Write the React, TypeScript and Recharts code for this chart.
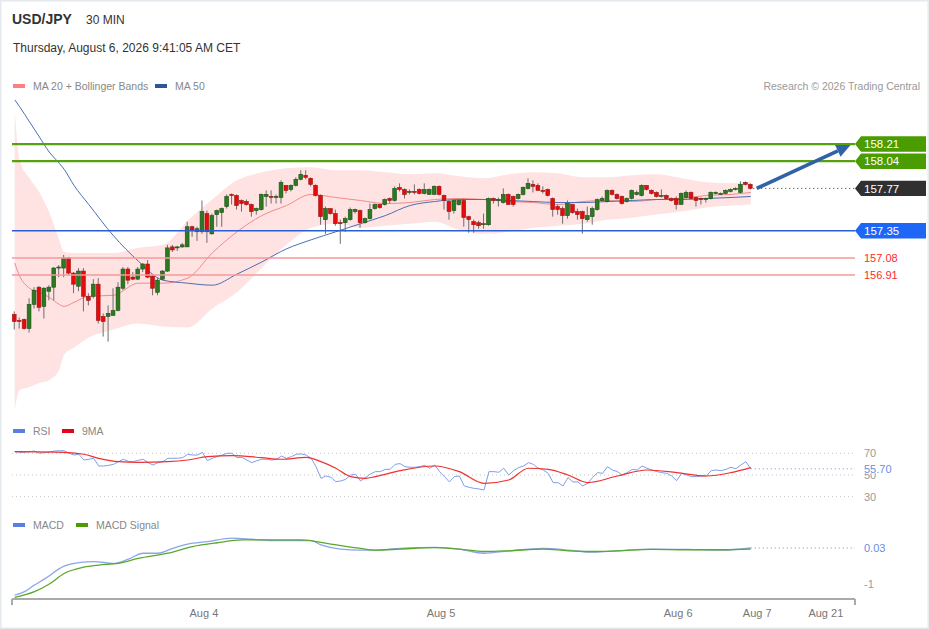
import { Area, Bar, ComposedChart, Line, ReferenceLine, XAxis, YAxis } from "recharts";

const FONT = '"Liberation Sans", Arial, sans-serif';

// USD/JPY 30 min candles, index 0 = first bar on screen
const OPEN = [
  156.52, 156.46, 156.47, 156.38, 156.62, 156.79, 156.6, 156.75, 156.79, 156.98,
  156.98, 157.08, 156.93, 156.8, 156.95, 156.7, 156.7, 156.82, 156.5, 156.5,
  156.51, 156.56, 156.78, 156.97, 156.89, 156.87, 156.97, 157.02, 156.9, 156.74,
  156.87, 156.95, 157.19, 157.18, 157.19, 157.19, 157.39, 157.34, 157.34, 157.52,
  157.32, 157.51, 157.53, 157.59, 157.71, 157.7, 157.65, 157.64, 157.61, 157.55,
  157.56, 157.69, 157.69, 157.68, 157.68, 157.8, 157.76, 157.8, 157.86, 157.9,
  157.87, 157.8, 157.7, 157.46, 157.57, 157.52, 157.43, 157.43, 157.46, 157.54,
  157.55, 157.43, 157.47, 157.57, 157.61, 157.61, 157.67, 157.65, 157.78, 157.76,
  157.73, 157.74, 157.76, 157.72, 157.71, 157.71, 157.79, 157.7, 157.64, 157.55,
  157.61, 157.65, 157.49, 157.44, 157.43, 157.41, 157.41, 157.67, 157.65, 157.63,
  157.71, 157.69, 157.67, 157.71, 157.77, 157.81, 157.8, 157.75, 157.76, 157.67,
  157.59, 157.57, 157.5, 157.61, 157.54, 157.54, 157.46, 157.49, 157.56, 157.65,
  157.64, 157.75, 157.71, 157.69, 157.64, 157.67, 157.71, 157.7, 157.8, 157.75,
  157.73, 157.69, 157.7, 157.67, 157.67, 157.61, 157.68, 157.73, 157.68, 157.67,
  157.66, 157.67, 157.72, 157.72, 157.72, 157.74, 157.76, 157.73, 157.83, 157.81,
];
const HIGH = [
  156.55, 156.49, 156.48, 156.68, 156.79, 156.8, 156.79, 156.81, 156.99, 157.01,
  157.11, 157.09, 156.94, 156.98, 156.98, 156.73, 156.87, 156.88, 156.53, 156.61,
  156.78, 156.84, 156.99, 156.99, 156.94, 156.99, 157.03, 157.06, 156.91, 156.88,
  156.96, 157.21, 157.21, 157.2, 157.23, 157.44, 157.4, 157.39, 157.65, 157.55,
  157.52, 157.56, 157.58, 157.71, 157.72, 157.71, 157.66, 157.66, 157.62, 157.58,
  157.72, 157.75, 157.75, 157.71, 157.85, 157.8, 157.81, 157.88, 157.95, 157.95,
  157.88, 157.81, 157.71, 157.59, 157.57, 157.56, 157.46, 157.49, 157.58, 157.57,
  157.56, 157.48, 157.62, 157.62, 157.62, 157.67, 157.68, 157.79, 157.82, 157.77,
  157.76, 157.81, 157.77, 157.82, 157.77, 157.8, 157.8, 157.71, 157.66, 157.66,
  157.67, 157.67, 157.5, 157.46, 157.45, 157.52, 157.68, 157.68, 157.68, 157.77,
  157.72, 157.7, 157.72, 157.79, 157.87, 157.85, 157.82, 157.79, 157.77, 157.68,
  157.61, 157.59, 157.65, 157.61, 157.57, 157.55, 157.59, 157.59, 157.67, 157.69,
  157.76, 157.76, 157.72, 157.7, 157.68, 157.76, 157.75, 157.81, 157.8, 157.76,
  157.74, 157.76, 157.71, 157.68, 157.69, 157.73, 157.75, 157.74, 157.69, 157.68,
  157.68, 157.74, 157.74, 157.73, 157.76, 157.77, 157.78, 157.84, 157.84, 157.82,
];
const LOW = [
  156.37, 156.38, 156.37, 156.34, 156.58, 156.55, 156.48, 156.66, 156.66, 156.89,
  156.89, 156.91, 156.73, 156.75, 156.55, 156.61, 156.68, 156.43, 156.3, 156.25,
  156.51, 156.55, 156.76, 156.82, 156.86, 156.86, 156.94, 156.88, 156.71, 156.71,
  156.86, 156.94, 157.14, 157.15, 157.18, 157.19, 157.29, 157.25, 157.32, 157.23,
  157.31, 157.39, 157.39, 157.57, 157.61, 157.56, 157.54, 157.6, 157.49, 157.51,
  157.55, 157.59, 157.62, 157.62, 157.62, 157.72, 157.74, 157.79, 157.85, 157.86,
  157.79, 157.69, 157.41, 157.32, 157.51, 157.4, 157.22, 157.34, 157.45, 157.52,
  157.38, 157.42, 157.46, 157.56, 157.57, 157.6, 157.62, 157.64, 157.74, 157.67,
  157.71, 157.71, 157.71, 157.71, 157.71, 157.71, 157.7, 157.56, 157.46, 157.52,
  157.6, 157.39, 157.33, 157.33, 157.37, 157.37, 157.4, 157.62, 157.59, 157.62,
  157.61, 157.59, 157.66, 157.7, 157.76, 157.73, 157.75, 157.72, 157.69, 157.49,
  157.51, 157.42, 157.47, 157.52, 157.46, 157.32, 157.44, 157.41, 157.55, 157.64,
  157.63, 157.7, 157.66, 157.61, 157.63, 157.66, 157.7, 157.69, 157.75, 157.71,
  157.68, 157.68, 157.66, 157.64, 157.56, 157.61, 157.67, 157.66, 157.59, 157.61,
  157.63, 157.66, 157.71, 157.71, 157.71, 157.73, 157.75, 157.72, 157.8, 157.76,
];
const CLOSE = [
  156.45, 156.45, 156.38, 156.62, 156.76, 156.59, 156.78, 156.79, 156.98, 156.99,
  157.08, 156.93, 156.82, 156.95, 156.7, 156.66, 156.82, 156.46, 156.45, 156.53,
  156.56, 156.79, 156.97, 156.86, 156.87, 156.97, 157.02, 156.89, 156.78, 156.86,
  156.95, 157.18, 157.16, 157.19, 157.21, 157.39, 157.35, 157.37, 157.54, 157.34,
  157.5, 157.55, 157.57, 157.69, 157.7, 157.6, 157.62, 157.61, 157.54, 157.57,
  157.71, 157.71, 157.68, 157.69, 157.83, 157.75, 157.8, 157.86, 157.91, 157.88,
  157.81, 157.7, 157.49, 157.57, 157.52, 157.42, 157.42, 157.47, 157.56, 157.56,
  157.43, 157.47, 157.56, 157.61, 157.58, 157.66, 157.65, 157.77, 157.76, 157.71,
  157.74, 157.73, 157.72, 157.76, 157.76, 157.79, 157.71, 157.65, 157.54, 157.65,
  157.65, 157.48, 157.46, 157.41, 157.4, 157.42, 157.67, 157.65, 157.66, 157.71,
  157.61, 157.61, 157.71, 157.78, 157.82, 157.79, 157.75, 157.74, 157.7, 157.56,
  157.56, 157.5, 157.62, 157.53, 157.51, 157.47, 157.5, 157.57, 157.66, 157.67,
  157.75, 157.71, 157.67, 157.62, 157.67, 157.75, 157.73, 157.8, 157.76, 157.72,
  157.69, 157.7, 157.67, 157.65, 157.61, 157.72, 157.73, 157.67, 157.65, 157.66,
  157.67, 157.73, 157.73, 157.72, 157.75, 157.76, 157.77, 157.81, 157.81, 157.77,
];

// overlays read at these bar indices
const OVERLAY_IDX = [
  0, 1, 3, 5, 7, 9, 10, 12, 15, 20, 25, 30, 35, 40, 45, 50, 55, 60,
  65, 70, 75, 80, 85, 90, 95, 100, 105, 110, 115, 120, 125, 130, 135, 140, 145, 149,
];
const BB_UPPER = [
  158.55, 158.05, 157.87, 157.73, 157.53, 157.26, 157.14, 157.13, 157.13, 157.13, 157.18, 157.21,
  157.45, 157.66, 157.85, 157.93, 157.97, 157.98, 157.95, 157.95, 157.93, 157.91, 157.92, 157.89,
  157.87, 157.91, 157.93, 157.92, 157.88, 157.88, 157.9, 157.91, 157.87, 157.83, 157.82, 157.84,
];
const BB_LOWER = [
  155.57, 155.77, 155.8, 155.84, 155.87, 155.97, 156.12, 156.19, 156.29, 156.37, 156.43, 156.4,
  156.39, 156.58, 156.74, 156.98, 157.21, 157.38, 157.42, 157.38, 157.4, 157.42, 157.44, 157.36,
  157.32, 157.34, 157.38, 157.4, 157.42, 157.46, 157.48, 157.51, 157.54, 157.58, 157.6, 157.61,
];
const MA20 = [
  157.03, 156.9, 156.78, 156.74, 156.69, 156.62, 156.6, 156.64, 156.7, 156.71, 156.83, 156.83,
  156.88, 157.13, 157.34, 157.5, 157.6, 157.71, 157.68, 157.65, 157.62, 157.63, 157.66, 157.67,
  157.66, 157.64, 157.63, 157.61, 157.64, 157.65, 157.64, 157.66, 157.67, 157.7, 157.71, 157.73,
];
const MA50 = [
  158.65, 158.58, 158.43, 158.28, 158.13, 158.02, 157.96, 157.8, 157.61, 157.3, 157.05, 156.86,
  156.83, 156.81, 156.92, 157.04, 157.17, 157.26, 157.34, 157.42, 157.5, 157.6, 157.64, 157.66,
  157.66, 157.65, 157.64, 157.63, 157.63, 157.64, 157.65, 157.66, 157.66, 157.67, 157.68, 157.69,
];

const RSI = [
  71.5, 70.9, 70.9, 71.5, 72.1, 70.0, 70.6, 71.2, 72.1, 72.4,
  72.4, 70.0, 68.4, 69.1, 63.8, 64.5, 65.4, 58.3, 58.3, 58.9,
  59.8, 62.3, 64.5, 62.6, 62.3, 63.5, 64.5, 61.4, 59.2, 61.4,
  62.3, 65.4, 65.4, 65.4, 66.0, 69.1, 68.4, 68.4, 70.9, 63.2,
  65.4, 66.9, 68.4, 70.0, 70.0, 66.0, 66.3, 63.8, 61.4, 63.2,
  64.5, 64.5, 63.8, 64.5, 67.5, 65.4, 66.9, 69.1, 69.4, 68.4,
  65.4, 57.7, 46.9, 49.1, 47.9, 43.9, 44.5, 46.0, 50.0, 50.6,
  44.5, 47.6, 50.9, 53.1, 53.1, 55.2, 55.2, 59.8, 60.5, 57.7,
  57.1, 57.1, 57.7, 58.9, 56.2, 59.2, 53.1, 48.5, 43.6, 48.5,
  49.1, 39.9, 38.6, 37.7, 37.1, 36.2, 53.1, 53.1, 52.5, 56.2,
  50.0, 54.0, 56.8, 58.3, 61.4, 59.8, 56.2, 54.6, 51.5, 42.9,
  42.9, 39.9, 47.6, 43.6, 43.6, 39.9, 42.3, 47.9, 52.2, 51.5,
  57.7, 54.6, 53.1, 50.0, 52.2, 55.2, 54.6, 58.3, 56.2, 54.6,
  53.1, 52.2, 51.5, 49.1, 44.8, 51.5, 50.0, 48.5, 48.5, 49.1,
  49.1, 54.0, 54.6, 54.0, 55.2, 57.1, 55.8, 59.2, 62.3, 55.7,
];
const RSI_MA_IDX = [
  0, 10, 14, 17, 21, 25, 31, 35, 39, 44, 50, 54, 59, 62, 65, 68, 71,
  73, 78, 85, 90, 95, 100, 104, 108, 112, 116, 122, 128, 134, 140, 145, 149,
];
const RSI_MA = [
  71.5, 70.9, 69.1, 65.4, 62.3, 61.7, 62.3, 63.8, 66.9, 67.8, 66.0, 64.5, 66.3, 62.3, 56.2, 48.5, 46.9,
  48.5, 54.0, 58.3, 53.1, 42.3, 45.4, 56.2, 55.2, 50.0, 43.0, 49.1, 54.6, 52.2, 49.1, 52.2, 56.8,
];
const RSI_LEVELS = [70, 50, 30];

const MACD_IDX = [
  0, 2, 4, 6, 10, 13, 16, 20, 23, 26, 29, 32, 35, 39, 44, 48, 52, 56,
  60, 62, 66, 70, 73, 78, 85, 90, 95, 100, 107, 112, 117, 122, 129, 136, 143, 149,
];
const MACD = [
  -1.32, -1.22, -1.03, -0.86, -0.49, -0.39, -0.36, -0.41, -0.29, -0.12, -0.12, 0.02, 0.14, 0.21, 0.31, 0.28, 0.24, 0.24,
  0.24, 0.12, 0.0, -0.03, -0.03, 0.02, 0.05, 0.0, -0.12, -0.05, 0.02, -0.03, -0.09, -0.05, 0.0, -0.01, -0.03, 0.03,
];
const SIGNAL_IDX = [
  0, 4, 7, 10, 14, 17, 21, 25, 31, 36, 41, 46, 51, 58, 64,
  70, 73, 78, 85, 90, 95, 100, 107, 112, 117, 122, 129, 136, 143, 149,
];
const SIGNAL = [
  -1.38, -1.22, -1.0, -0.7, -0.52, -0.46, -0.41, -0.27, -0.12, 0.07, 0.18, 0.26, 0.26, 0.26, 0.14,
  0.02, -0.03, 0.0, 0.04, 0.0, -0.07, -0.05, 0.0, -0.05, -0.07, -0.05, -0.01, -0.02, -0.02, 0.0,
];
const MACD_LEVELS = [-1];

const RESISTANCE = [158.21, 158.04];
const LAST_PRICE = 157.77;
const PIVOT = 157.35;
const SUPPORT = [157.08, 156.91];
const TARGET_FROM = [150.2, 157.77];
const TARGET_TO = [169.2, 158.2];

const X_DOMAIN: [number, number] = [-0.55, 170.1];
const X_TICKS = [38.3, 86.3, 134.3, 150.3, 164.2];
const X_LABELS = ["Aug 4", "Aug 5", "Aug 6", "Aug 7", "Aug 21"];

const W = 929;
const MARGIN_X = { left: 12, right: 74 };

const candles = OPEN.map((o, i) => ({ i, o, h: HIGH[i], l: LOW[i], c: CLOSE[i], hl: [LOW[i], HIGH[i]] }));
const overlays = OVERLAY_IDX.map((i, k) => ({
  i,
  band: [BB_LOWER[k], BB_UPPER[k]],
  ma20: MA20[k],
  ma50: MA50[k],
}));

function sparse(series: { key: string; idx: number[]; vals: number[] }[]) {
  const rows = new Map<number, any>();
  series.forEach((s) =>
    s.idx.forEach((j, k) => {
      const r = rows.get(j) ?? { i: j };
      r[s.key] = s.vals[k];
      rows.set(j, r);
    })
  );
  return [...rows.values()].sort((a, b) => a.i - b.i);
}

const rsiRows = sparse([
  { key: "rsi", idx: RSI.map((_, i) => i), vals: RSI },
  { key: "ma", idx: RSI_MA_IDX, vals: RSI_MA },
]);
const macdRows = sparse([
  { key: "macd", idx: MACD_IDX, vals: MACD },
  { key: "signal", idx: SIGNAL_IDX, vals: SIGNAL },
]);

function Candle(props: any) {
  const { x, y, width, height, payload } = props;
  if (!payload || x == null) return null;
  const top = Math.min(y, y + height);
  const bot = Math.max(y, y + height);
  const { o, h, l, c } = payload;
  const span = h - l || 1;
  const py = (v: number) => top + ((h - v) / span) * (bot - top);
  const cx = x + width / 2;
  const up = c >= o;
  const yo = py(o);
  const yc = py(c);
  const bt = Math.min(yo, yc);
  const bh = Math.max(1, Math.abs(yo - yc));
  return (
    <g>
      <line x1={cx} x2={cx} y1={top} y2={bot} stroke="#6e6e6e" strokeWidth={1} />
      <rect
        x={cx - 1.9}
        y={bt}
        width={3.8}
        height={bh}
        fill={up ? "#2b7a22" : "#e60a0a"}
        stroke={up ? "#1d4f17" : "#9a1414"}
        strokeWidth={0.6}
      />
    </g>
  );
}

function Tag({ viewBox, text, fill }: any) {
  if (!viewBox) return null;
  const x = viewBox.x + viewBox.width;
  const y = viewBox.y;
  const hh = 7.7;
  return (
    <g>
      <polygon
        points={`${x},${y} ${x + 6},${y - hh} ${x + 71},${y - hh} ${x + 71},${y + hh} ${x + 6},${y + hh}`}
        fill={fill}
      />
      <text x={x + 9} y={y + 4.2} fill="#fff" fontSize={11.5} fontFamily={FONT}>
        {text}
      </text>
    </g>
  );
}

function SideText({ viewBox, text, color, bg }: any) {
  if (!viewBox) return null;
  const x = viewBox.x + viewBox.width + 9;
  const y = viewBox.y;
  return (
    <g>
      {bg && <rect x={x - 1} y={y - 5} width={34} height={9.5} fill="#fff" />}
      <text x={x} y={y + 4} fill={color} fontSize={11} fontFamily={FONT}>
        {text}
      </text>
    </g>
  );
}

function Arrow(props: any) {
  const { x1, y1, x2, y2 } = props;
  const a = Math.atan2(y2 - y1, x2 - x1);
  const len = 14;
  const half = 6.5;
  const bx = x2 - len * Math.cos(a);
  const by = y2 - len * Math.sin(a);
  const px = -Math.sin(a) * half;
  const py = Math.cos(a) * half;
  return (
    <g>
      <line x1={x1} y1={y1} x2={bx} y2={by} stroke="#2f62a6" strokeWidth={3.5} />
      <polygon points={`${x2},${y2} ${bx + px},${by + py} ${bx - px},${by - py}`} fill="#2f62a6" />
    </g>
  );
}

function AxisTick({ x, y, payload }: any) {
  const k = X_TICKS.indexOf(payload.value);
  if (k < 0) return <line x1={x} x2={x} y1={y} y2={y + 6} stroke="#aaa" strokeWidth={2} />;
  return (
    <text x={x} y={y + 18} textAnchor="middle" fill="#777" fontSize={11} fontFamily={FONT}>
      {X_LABELS[k]}
    </text>
  );
}

const PRICE_DOMAIN: [number, number] = [155.572, 158.647];

function PricePanel() {
  const margin = { top: 100, bottom: 10, ...MARGIN_X };
  return (
    <>
      <div style={{ position: "absolute", left: 0, top: 0 }}>
        <ComposedChart width={W} height={420} data={overlays} margin={margin}>
          <XAxis dataKey="i" type="number" domain={X_DOMAIN} allowDataOverflow hide height={0} />
          <YAxis type="number" domain={PRICE_DOMAIN} allowDataOverflow hide />
          <Area
            dataKey="band"
            type="monotone"
            stroke="none"
            fill="#ffe2e2"
            fillOpacity={1}
            isAnimationActive={false}
          />
          <Line dataKey="ma20" type="monotone" stroke="#f28b8b" strokeWidth={1} dot={false} isAnimationActive={false} />
          <Line dataKey="ma50" type="monotone" stroke="#4b6fb3" strokeWidth={1} dot={false} isAnimationActive={false} />
        </ComposedChart>
      </div>
      <div style={{ position: "absolute", left: 0, top: 0 }}>
        <ComposedChart width={W} height={420} data={candles} margin={margin}>
          <XAxis dataKey="i" type="number" domain={X_DOMAIN} allowDataOverflow hide height={0} />
          <YAxis type="number" domain={PRICE_DOMAIN} allowDataOverflow hide />
          {RESISTANCE.map((v) => (
            <ReferenceLine
              key={v}
              y={v}
              stroke="#55a10f"
              strokeWidth={2.2}
              label={(p: any) => <Tag viewBox={p.viewBox} text={v.toFixed(2)} fill="#4a9c00" />}
            />
          ))}
          <ReferenceLine
            y={PIVOT}
            stroke="#2a5fd0"
            strokeWidth={1.3}
            label={(p: any) => <Tag viewBox={p.viewBox} text={PIVOT.toFixed(2)} fill="#1e66f5" />}
          />
          {SUPPORT.map((v) => (
            <ReferenceLine
              key={v}
              y={v}
              stroke="#f59a9a"
              strokeWidth={1.5}
              label={(p: any) => <SideText viewBox={p.viewBox} text={v.toFixed(2)} color="#ff2a2a" />}
            />
          ))}
          <ReferenceLine
            segment={[
              { x: OPEN.length - 0.5, y: LAST_PRICE },
              { x: X_DOMAIN[1], y: LAST_PRICE },
            ]}
            stroke="#333"
            strokeWidth={1}
            strokeDasharray="1 3"
          />
          <ReferenceLine
            y={LAST_PRICE}
            stroke="none"
            strokeOpacity={0}
            label={(p: any) => <Tag viewBox={p.viewBox} text={LAST_PRICE.toFixed(2)} fill="#303030" />}
          />
          <Bar dataKey="hl" barSize={4} shape={<Candle />} isAnimationActive={false} />
          <ReferenceLine
            segment={[
              { x: TARGET_FROM[0], y: TARGET_FROM[1] },
              { x: TARGET_TO[0], y: TARGET_TO[1] },
            ]}
            shape={Arrow}
            ifOverflow="visible"
          />
        </ComposedChart>
      </div>
    </>
  );
}

function RsiPanel() {
  const last = RSI[RSI.length - 1];
  return (
    <div style={{ position: "absolute", left: 0, top: 420 }}>
      <ComposedChart width={W} height={100} data={rsiRows} margin={{ top: 22.45, bottom: 12.45, ...MARGIN_X }}>
        <XAxis dataKey="i" type="number" domain={X_DOMAIN} allowDataOverflow hide height={0} />
        <YAxis type="number" domain={[20, 80]} allowDataOverflow hide />
        {RSI_LEVELS.map((v) => (
          <ReferenceLine
            key={v}
            y={v}
            stroke="#c4c4c4"
            strokeDasharray="1 3"
            label={(p: any) => <SideText viewBox={p.viewBox} text={String(v)} color="#999" />}
          />
        ))}
        <ReferenceLine
          segment={[
            { x: RSI.length - 1, y: last },
            { x: X_DOMAIN[1], y: last },
          ]}
          stroke="#6b8de6"
          strokeDasharray="1 3"
        />
        <ReferenceLine
          y={last}
          stroke="none"
          strokeOpacity={0}
          label={(p: any) => <SideText viewBox={p.viewBox} text={last.toFixed(2)} color="#6b8de6" bg />}
        />
        <Line dataKey="rsi" type="linear" stroke="#7f9ee8" strokeWidth={1} dot={false} connectNulls isAnimationActive={false} />
        <Line dataKey="ma" type="monotone" stroke="#f03030" strokeWidth={1.2} dot={false} connectNulls isAnimationActive={false} />
      </ComposedChart>
    </div>
  );
}

function MacdPanel() {
  const last = MACD[MACD.length - 1];
  return (
    <div style={{ position: "absolute", left: 0, top: 510 }}>
      <ComposedChart width={W} height={119} data={macdRows} margin={{ top: 18, bottom: 0, ...MARGIN_X }}>
        <XAxis
          dataKey="i"
          type="number"
          domain={X_DOMAIN}
          allowDataOverflow
          height={30}
          ticks={[X_DOMAIN[0], ...X_TICKS, X_DOMAIN[1]]}
          interval={0}
          tickSize={0}
          tickMargin={0}
          tickLine={false}
          axisLine={{ stroke: "#aaa", strokeWidth: 2 }}
          tick={<AxisTick />}
        />
        <YAxis type="number" domain={[-1.429, 0.602]} allowDataOverflow hide />
        {MACD_LEVELS.map((v) => (
          <ReferenceLine
            key={v}
            y={v}
            stroke="none"
            strokeOpacity={0}
            label={(p: any) => <SideText viewBox={p.viewBox} text={String(v)} color="#999" />}
          />
        ))}
        <ReferenceLine
          segment={[
            { x: MACD_IDX[MACD_IDX.length - 1], y: last },
            { x: X_DOMAIN[1], y: last },
          ]}
          stroke="#6b8de6"
          strokeDasharray="1 3"
        />
        <ReferenceLine
          y={last}
          stroke="none"
          strokeOpacity={0}
          label={(p: any) => <SideText viewBox={p.viewBox} text={last.toFixed(2)} color="#6b8de6" />}
        />
        <Line dataKey="macd" type="monotone" stroke="#8aa5ea" strokeWidth={1.3} dot={false} connectNulls isAnimationActive={false} />
        <Line dataKey="signal" type="monotone" stroke="#5aa82a" strokeWidth={1.3} dot={false} connectNulls isAnimationActive={false} />
      </ComposedChart>
    </div>
  );
}

function Swatch({ x, y, color, label }: { x: number; y: number; color: string; label: string }) {
  return (
    <g>
      <rect x={x} y={y - 2} width={12} height={4} fill={color} />
      <text x={x + 20} y={y + 4} fill="#888" fontSize={10.5}>
        {label}
      </text>
    </g>
  );
}

export default function App() {
  return (
    <div
      style={{
        position: "absolute",
        left: 0,
        top: 0,
        width: W,
        height: 629,
        background: "#fff",
        boxShadow: "inset 0 0 0 1.5px #e4eaee",
        fontFamily: FONT,
        overflow: "hidden",
      }}
    >
      <PricePanel />
      <RsiPanel />
      <MacdPanel />
      <svg
        width={W}
        height={629}
        style={{ position: "absolute", left: 0, top: 0, pointerEvents: "none" }}
        fontFamily={FONT}
      >
        <text x={12} y={24} fontSize={14} fontWeight="bold" fill="#333">
          USD/JPY
        </text>
        <text x={86} y={24} fontSize={12} fill="#333">
          30 MIN
        </text>
        <text x={13} y={52} fontSize={12} fill="#333">
          Thursday, August 6, 2026 9:41:05 AM CET
        </text>
        <Swatch x={13} y={86} color="#ff8080" label="MA 20 + Bollinger Bands" />
        <Swatch x={155} y={86} color="#2e5597" label="MA 50" />
        <text x={920} y={90} fontSize={10.5} fill="#999" textAnchor="end">
          Research © 2026 Trading Central
        </text>
        <Swatch x={13} y={431} color="#5b7fe0" label="RSI" />
        <Swatch x={62} y={431} color="#e8001c" label="9MA" />
        <Swatch x={13} y={525} color="#5b7fe0" label="MACD" />
        <Swatch x={76} y={525} color="#4a9c00" label="MACD Signal" />
      </svg>
    </div>
  );
}
